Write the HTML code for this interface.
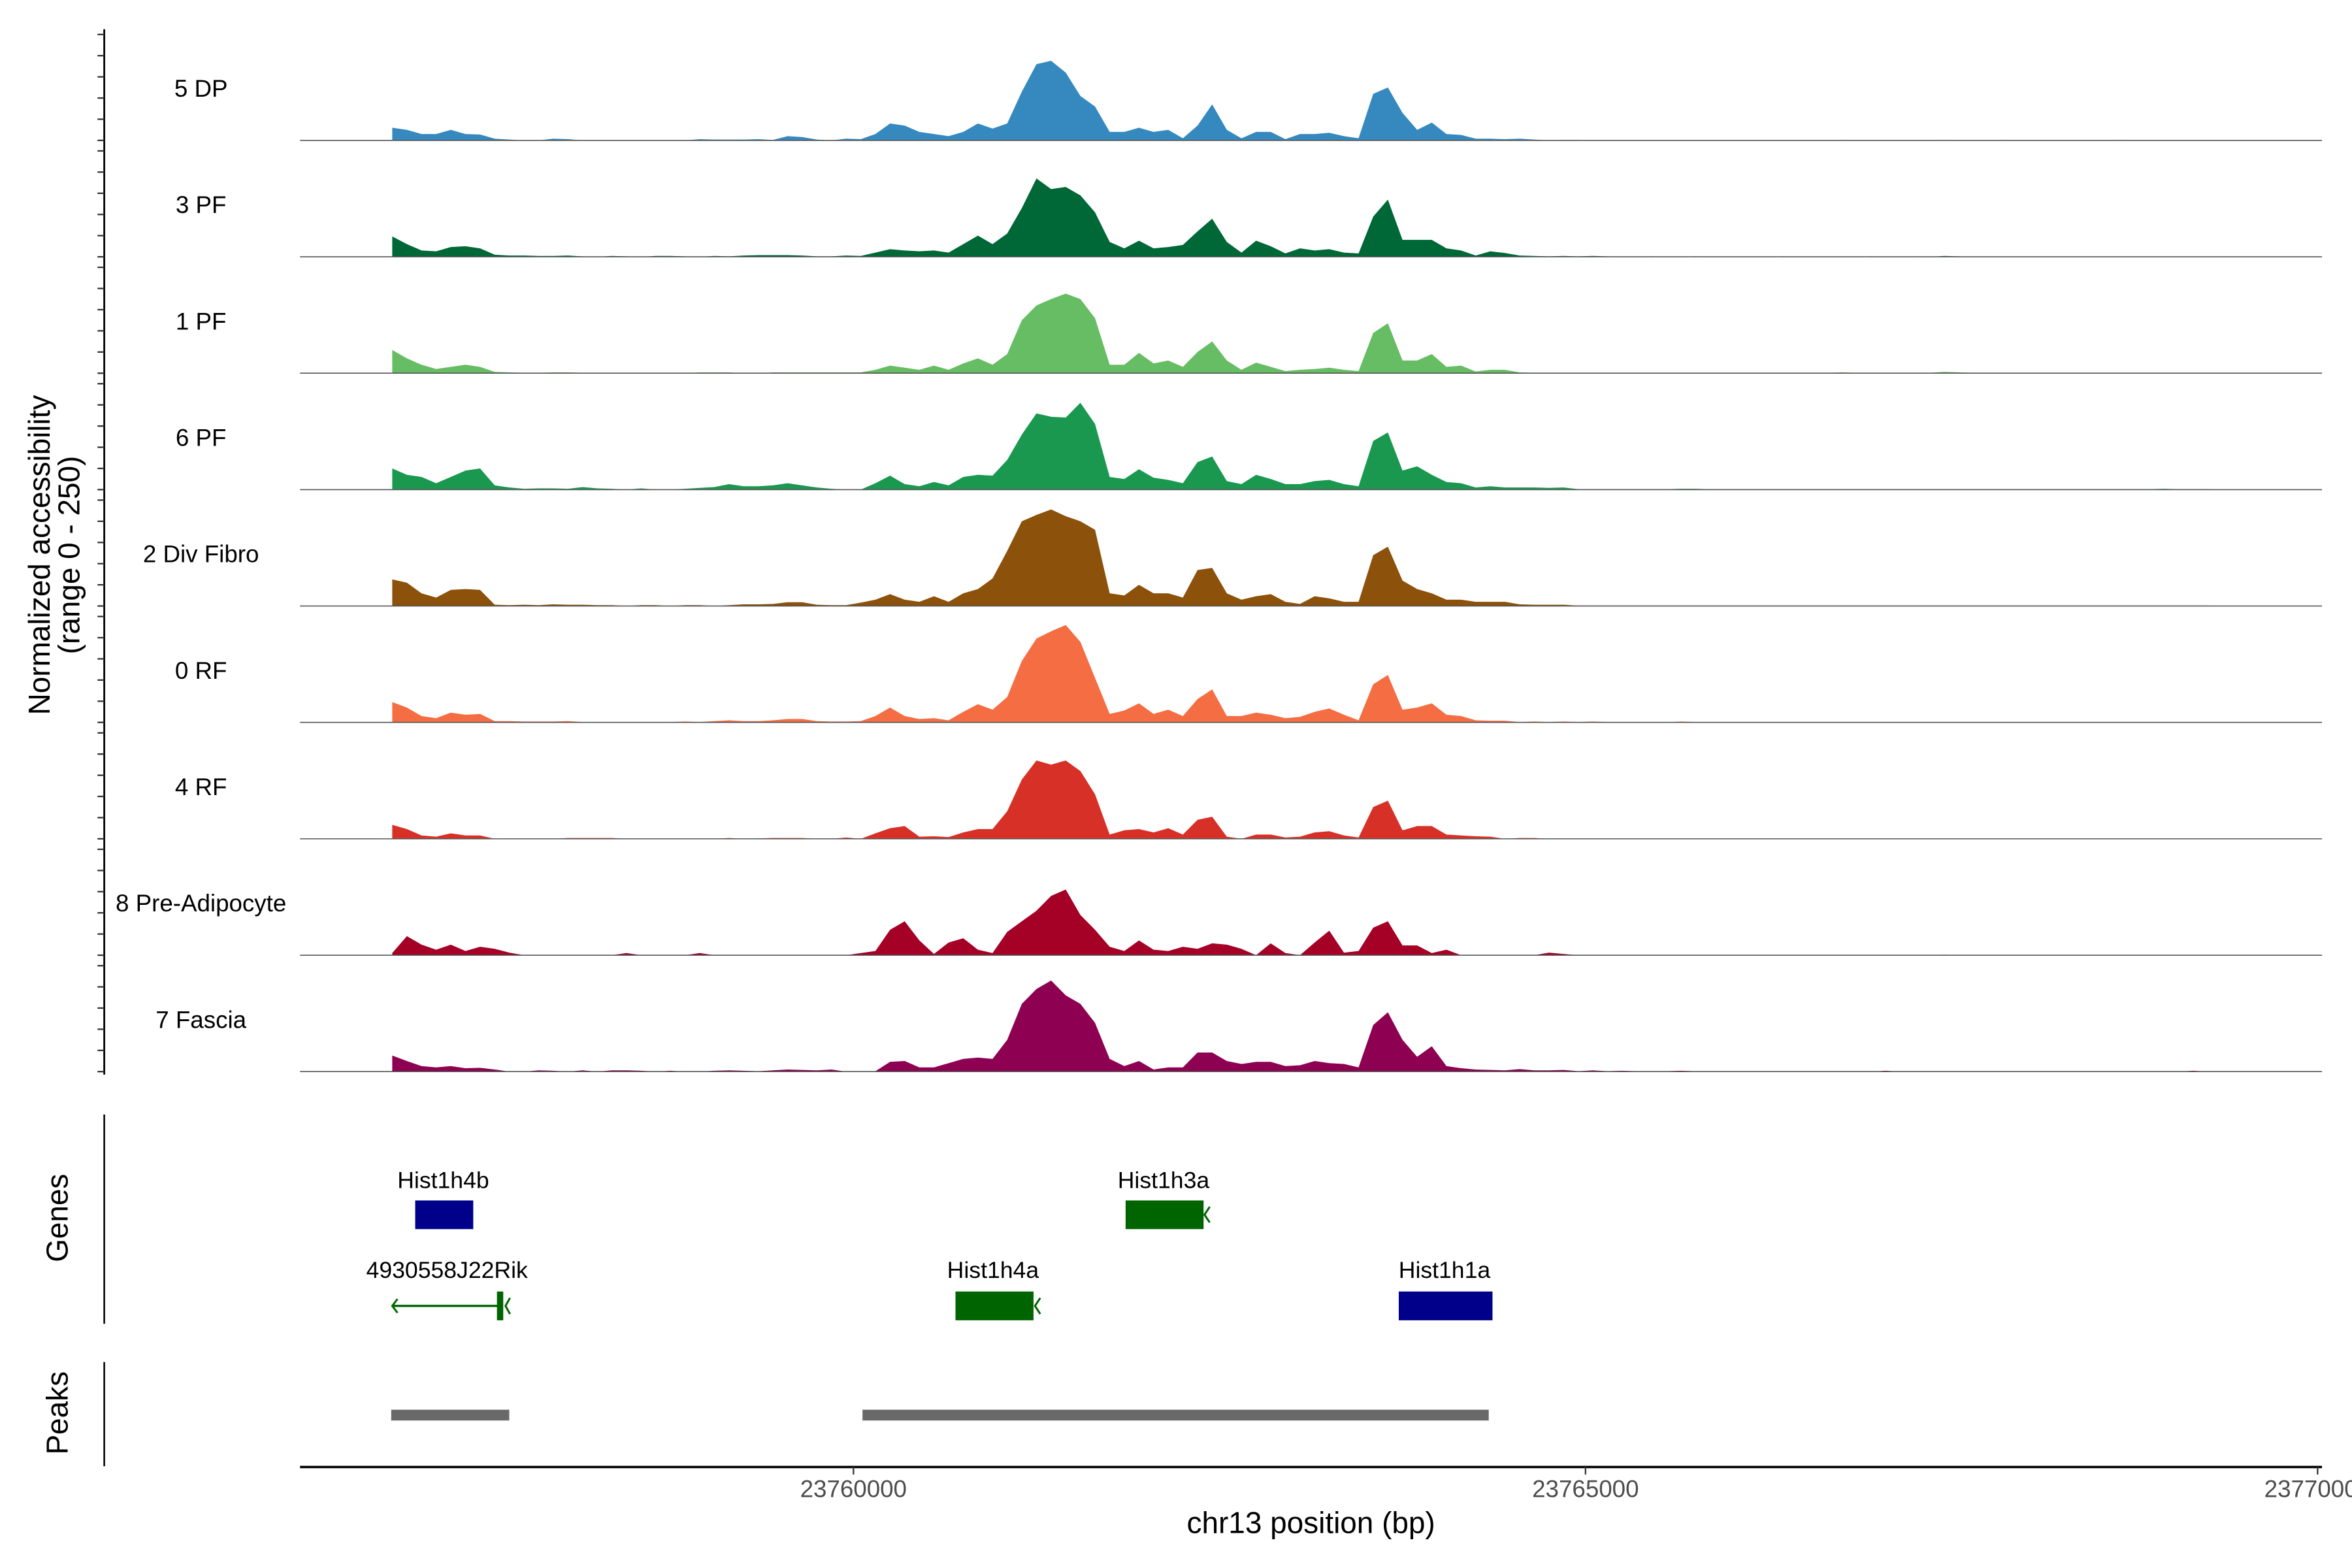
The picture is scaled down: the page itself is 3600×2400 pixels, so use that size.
<!DOCTYPE html>
<html><head><meta charset="utf-8"><title>chr13 accessibility tracks</title>
<style>
html,body{margin:0;padding:0;background:#fff;}
svg{display:block;font-family:"Liberation Sans",Arial,sans-serif;}
</style></head>
<body>
<svg id="chart" xmlns="http://www.w3.org/2000/svg" width="3600" height="2400" viewBox="0 0 1568 1045.33" preserveAspectRatio="none">
  <rect x="0" y="0" width="1568" height="1045.33" fill="#fff"/>
  <g id="tracks"></g>
  <g id="yaxis"></g>
  <text transform="translate(36,370) rotate(-90)" text-anchor="middle" font-size="20" fill="#000"><tspan x="0" dy="-3">Normalized accessibility</tspan><tspan x="0" dy="20">(range 0 - 250)</tspan></text>

  <g>
    <line x1="69.5" y1="743" x2="69.5" y2="882.5" stroke="#000" stroke-width="1.1"/>
    <text transform="translate(45,812) rotate(-90)" text-anchor="middle" font-size="20">Genes</text>
    <g>
      <text x="295.5" y="792" text-anchor="middle" font-size="15.5">Hist1h4b</text>
      <rect x="276.8" y="800.3" width="38.7" height="19.1" fill="#00008b"/>
    </g>
    <g>
      <text x="775.7" y="792" text-anchor="middle" font-size="15.5">Hist1h3a</text>
      <rect x="750.4" y="800.3" width="52" height="19.1" fill="#006400"/>
      <polyline points="806.5,804.5 803,809.8 806.5,815" fill="none" stroke="#006400" stroke-width="1.3"/>
    </g>
    <g>
      <text x="298" y="852" text-anchor="middle" font-size="15.5">4930558J22Rik</text>
      <line x1="261.5" y1="870.6" x2="333" y2="870.6" stroke="#006400" stroke-width="1.5"/>
      <polyline points="265,866 261.5,870.6 265,875.2" fill="none" stroke="#006400" stroke-width="1.3"/>
      <rect x="331.3" y="861" width="4.2" height="19.2" fill="#006400"/>
      <polyline points="340,865.3 337,870.6 340,876" fill="none" stroke="#006400" stroke-width="1.3"/>
    </g>
    <g>
      <text x="662" y="852" text-anchor="middle" font-size="15.5">Hist1h4a</text>
      <rect x="637" y="861" width="52" height="19.2" fill="#006400"/>
      <polyline points="693.5,865.3 690,870.6 693.5,876" fill="none" stroke="#006400" stroke-width="1.3"/>
    </g>
    <g>
      <text x="963" y="852" text-anchor="middle" font-size="15.5">Hist1h1a</text>
      <rect x="932.5" y="861" width="62.5" height="19.2" fill="#00008b"/>
    </g>
  </g>

  <g>
    <line x1="69.5" y1="908" x2="69.5" y2="977.5" stroke="#000" stroke-width="1.1"/>
    <text transform="translate(45,942) rotate(-90)" text-anchor="middle" font-size="20">Peaks</text>
    <rect x="260.8" y="939.8" width="78.7" height="7.2" fill="#696969"/>
    <rect x="575" y="939.8" width="417.5" height="7.2" fill="#696969"/>
  </g>

  <g id="xaxis">
    <line x1="200" y1="978" x2="1548" y2="978" stroke="#000" stroke-width="1.6"/>
  </g>
  <text x="874" y="1022" text-anchor="middle" font-size="20">chr13 position (bp)</text>
</svg>
<script>
// ---- data (coverage, normalized 0-250, 100 bp bins starting at 23756800) ----
const binStart = 23756800;
const binSize = 100;
const trackNames = ["5 DP","3 PF","1 PF","6 PF","2 Div Fibro","0 RF","4 RF","8 Pre-Adipocyte","7 Fascia"];
const trackColors = ["#3589bf","#006837","#66bd63","#1a9850","#8c510a","#f46d43","#d73027","#a50026","#8e0152"];
const xTicks = [23760000, 23765000, 23770000];
const xTickLabels = ["23760000","23765000","23770000"];
const yTicks = [0,50,100,150,200,250];

const cov5DP = [30,25,15,15,25,15,14,4,2,0, 0,4,3,0,0,0,0,0,0,0, 0,3,2,2,2,3,1,10,8,2, 0,4,3,15,40,35,20,15,10,20, 40,28,40,115,180,188,160,105,80,20, 20,30,20,25,5,35,85,25,5,20, 20,3,15,15,18,10,5,110,125,65, 25,42,15,13,4,4,3,4,2,0, 1,
 1,0,0,0,0,0,0,0,0,0, 0,0,0,0,0,0,0,0,1,0, 0,0,0,0,0,1,0,0,0,1, 0,0,0,0,0,0,0,1,0,0, 0,0,0,0,0,0,0,0,0,0, 0];
const cov3PF = [48,30,15,13,23,25,20,5,3,3, 2,2,3,1,0,2,1,0,2,2, 1,0,2,1,3,4,4,4,3,1, 1,3,2,10,18,15,13,15,10,30, 50,30,55,115,185,160,165,145,105,35, 20,38,20,23,28,60,90,35,10,38, 25,8,20,15,18,10,8,95,135,40, 40,40,20,15,3,13,9,3,2,1, 2,
 1,2,1,0,0,1,0,0,1,0, 0,0,0,0,1,0,0,0,0,0, 1,0,0,1,0,2,1,0,0,0, 0,0,0,0,0,0,0,0,0,0, 0,0,0,0,0,0,0,0,0,0, 0];
const cov1PF = [55,35,20,10,15,20,15,3,2,1, 1,2,2,1,0,0,0,0,0,0, 0,2,2,2,0,0,2,2,2,2, 2,2,2,8,18,13,8,18,8,23, 35,20,45,125,160,175,188,175,130,20, 20,48,23,30,15,50,75,30,8,25, 15,5,8,10,13,8,5,95,118,30, 30,45,15,18,4,8,8,2,1,1, 1,
 1,1,1,1,1,1,1,1,1,1, 1,1,1,1,1,1,1,1,2,1, 1,1,1,1,1,3,2,1,1,1, 1,1,1,1,1,1,1,1,1,1, 1,1,1,0,0,0,0,0,0,0, 0];
const cov6PF = [50,35,30,15,30,45,50,10,5,2, 3,3,2,6,3,2,0,3,0,0, 2,4,6,13,8,8,10,15,10,5, 2,0,0,15,33,13,8,18,10,30, 35,33,70,130,180,172,170,205,155,30, 25,48,28,23,15,65,78,20,13,35, 25,13,13,20,23,13,8,115,135,45, 55,35,18,15,5,8,5,5,5,4, 5,
 1,1,1,1,1,1,1,2,2,1, 1,1,1,1,1,1,1,1,1,1, 1,1,1,1,1,1,1,1,1,1, 1,1,1,1,1,1,1,1,1,1, 2,1,1,1,0,0,0,0,0,0, 0];
const cov2DivFibro = [63,55,30,20,38,40,38,3,2,3, 2,4,3,3,2,2,0,2,2,0, 2,2,0,2,4,4,5,9,9,3, 2,2,8,15,28,15,10,23,10,30, 40,65,130,200,215,228,212,200,180,30, 25,50,30,30,20,85,90,30,15,23, 28,10,5,23,18,10,10,120,140,60, 40,30,15,15,10,10,10,4,3,3, 3,
 1,1,1,1,1,1,1,1,1,1, 1,1,1,1,1,1,1,1,1,1, 1,1,1,1,1,1,1,1,1,1, 1,1,1,1,1,1,1,1,1,1, 1,1,1,1,0,0,0,0,0,0, 0];
const cov0RF = [48,35,15,10,23,18,20,3,3,2, 2,2,3,1,0,0,0,0,0,1, 2,1,3,5,3,3,5,8,8,3, 2,2,3,15,35,15,8,10,5,25, 43,30,60,145,198,215,230,190,105,20, 28,45,20,30,15,55,78,15,15,23, 18,10,13,25,33,18,5,90,112,30, 35,45,18,15,5,4,4,1,2,1, 2,
 1,2,1,0,0,0,0,2,1,0, 0,0,0,0,0,0,0,0,0,0, 0,0,0,0,0,0,0,0,0,0, 0,0,0,0,0,0,0,0,0,0, 0,0,0,0,0,0,0,0,0,0, 0];
const cov4RF = [33,23,8,5,13,8,8,0,0,0, 0,0,2,2,2,2,0,0,0,0, 0,0,0,2,0,1,2,2,2,0, 0,3,0,13,25,30,5,6,4,15, 23,23,65,140,185,175,185,160,105,10, 20,23,15,25,10,45,52,5,0,10, 10,3,5,15,18,8,3,75,90,20, 30,30,10,8,6,5,0,2,2,0, 0,
 0,0,0,0,0,0,0,0,0,0, 0,0,0,0,0,0,0,0,0,0, 0,0,0,0,0,0,0,0,0,0, 0,0,0,0,0,0,0,0,0,0, 0,0,0,0,0,0,0,0,0,0, 0];
const cov8PreAdipocyte = [5,45,25,13,25,10,20,15,6,0, 0,0,0,0,0,0,5,0,0,0, 0,5,0,0,0,0,0,0,0,0, 0,0,5,10,60,80,35,3,30,40, 13,5,55,80,105,140,155,95,60,20, 10,35,13,10,20,15,28,25,15,0, 28,5,0,30,58,6,10,65,80,23, 23,5,13,0,0,0,0,0,0,6, 3,
 0,0,0,0,0,0,0,0,0,0, 0,0,0,0,0,0,0,0,0,0, 0,0,0,0,0,1,0,0,0,0, 0,0,0,0,0,0,0,0,0,0, 0,0,0,0,0,0,0,0,0,0, 0];
const cov7Fascia = [38,25,13,10,13,8,9,5,0,0, 3,2,0,3,0,3,3,2,0,2, 0,0,2,3,2,1,3,5,4,3, 5,0,0,1,23,25,10,10,20,30, 33,30,75,160,195,215,180,160,115,30, 13,25,5,10,10,45,45,25,18,23, 23,13,15,25,20,18,10,110,140,75, 35,60,13,8,5,4,3,6,3,3, 4,
 1,3,1,2,1,1,1,2,1,0, 0,0,0,0,0,0,0,0,0,0, 0,2,0,0,0,0,0,0,0,0, 0,0,1,0,0,0,0,0,0,0, 0,0,2,0,0,0,0,0,0,0, 0];
const trackValues = [cov5DP,cov3PF,cov1PF,cov6PF,cov2DivFibro,cov0RF,cov4RF,cov8PreAdipocyte,cov7Fascia];

const NS = "http://www.w3.org/2000/svg";
const xDomain = [23756220, 23770030], xRange = [200, 1548];
function xScale(bp){ return xRange[0] + (bp - xDomain[0]) * (xRange[1]-xRange[0]) / (xDomain[1]-xDomain[0]); }
const firstBase = 93.6, trackStep = 77.6, trackHeight = 70.6, yMax = 250;
function baseY(i){ return firstBase + i*trackStep; }
function yScale(i, v){ return baseY(i) - Math.min(v, yMax) / yMax * trackHeight; }

const tracksG = document.getElementById('tracks');
trackNames.forEach(function(name, i){
  const vals = trackValues[i];
  const g = document.createElementNS(NS, 'g');
  
  
  let d = '';
  const x0 = xScale(binStart + binSize/2);
  d += 'M' + x0.toFixed(2) + ',' + baseY(i).toFixed(2);
  vals.forEach(function(v, k){
    const x = xScale(binStart + k*binSize + binSize/2);
    d += 'L' + x.toFixed(2) + ',' + yScale(i, v).toFixed(2);
  });
  const xl = xScale(binStart + (vals.length-1)*binSize + binSize/2);
  d += 'L' + xl.toFixed(2) + ',' + baseY(i).toFixed(2) + 'Z';
  const p = document.createElementNS(NS, 'path');
  p.setAttribute('d', d);
  p.setAttribute('fill', trackColors[i]);
  
  
  g.appendChild(p);
  const bl = document.createElementNS(NS, 'line');
  bl.setAttribute('x1', 200); bl.setAttribute('x2', 1548);
  bl.setAttribute('y1', baseY(i)); bl.setAttribute('y2', baseY(i));
  bl.setAttribute('stroke', '#555'); bl.setAttribute('stroke-width', '0.7');
  
  
  g.appendChild(bl);
  const t = document.createElementNS(NS, 'text');
  t.setAttribute('x', 134); t.setAttribute('y', baseY(i) - 34.6);
  t.setAttribute('text-anchor', 'middle');
  t.setAttribute('dominant-baseline', 'central');
  t.setAttribute('font-size', '16');
  t.textContent = name;
  
  
  g.appendChild(t);
  tracksG.appendChild(g);
});

const yG = document.getElementById('yaxis');
const yl = document.createElementNS(NS, 'line');
yl.setAttribute('x1', 69.5); yl.setAttribute('x2', 69.5);
yl.setAttribute('y1', 19.5); yl.setAttribute('y2', baseY(trackNames.length-1) + 2);
yl.setAttribute('stroke', '#000'); yl.setAttribute('stroke-width', '1.2');


yG.appendChild(yl);
trackNames.forEach(function(name, i){
  yTicks.forEach(function(tv){
    const tk = document.createElementNS(NS, 'line');
    const y = yScale(i, tv);
    tk.setAttribute('x1', 65); tk.setAttribute('x2', 69.5);
    tk.setAttribute('y1', y); tk.setAttribute('y2', y);
    tk.setAttribute('stroke', '#333'); tk.setAttribute('stroke-width', '1');
    
    
    yG.appendChild(tk);
  });
});

const xG = document.getElementById('xaxis');
xTicks.forEach(function(bp, j){
  const x = xScale(bp);
  const tk = document.createElementNS(NS, 'line');
  tk.setAttribute('x1', x); tk.setAttribute('x2', x);
  tk.setAttribute('y1', 978); tk.setAttribute('y2', 983);
  tk.setAttribute('stroke', '#333'); tk.setAttribute('stroke-width', '1');
  
  
  xG.appendChild(tk);
  const t = document.createElementNS(NS, 'text');
  t.setAttribute('x', x); t.setAttribute('y', 998);
  t.setAttribute('text-anchor', 'middle');
  t.setAttribute('font-size', '16');
  t.setAttribute('fill', '#4d4d4d');
  t.textContent = xTickLabels[j];
  
  
  xG.appendChild(t);
});
</script>
</body></html>
